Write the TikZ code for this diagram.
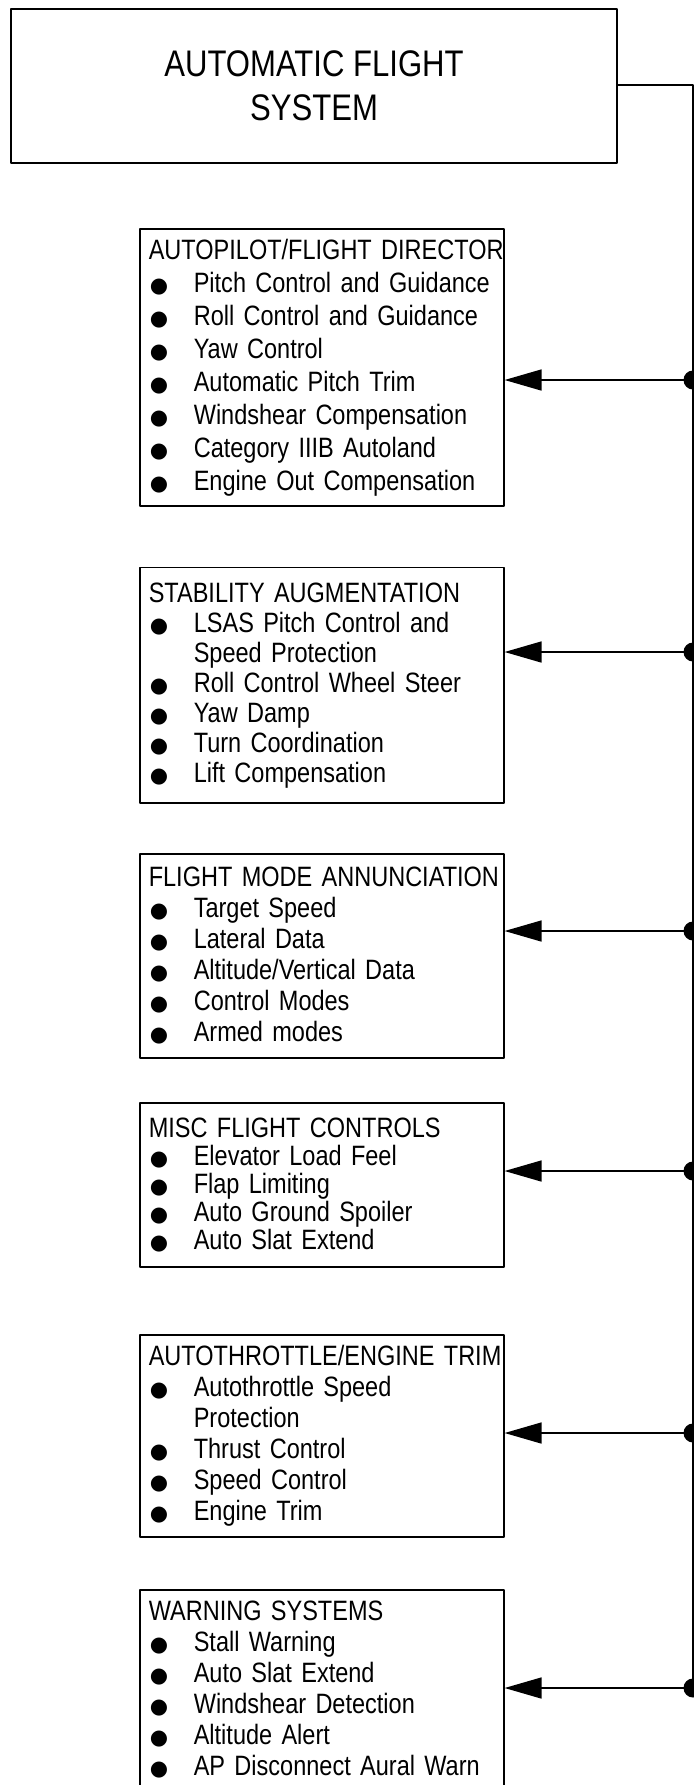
\documentclass[tikz,border=0pt]{standalone}
\usepackage{fontspec}
\setmainfont{Liberation Sans}[FakeStretch=0.84]
\newfontfamily\dotfont{DejaVu Sans}
\usetikzlibrary{arrows.meta}
\newcommand\bul{{\dotfont\fontsize{10.5pt}{10.5pt}\selectfont ●}}
\newcommand\itm[1]{\mbox{\makebox[22.5pt][l]{\hspace{0.5pt}\bul}#1}}
\newcommand\cont[1]{\mbox{\hspace{22.5pt}#1}}
\begin{document}
\begin{tikzpicture}[x=1pt,y=1pt,line width=0.8pt,line join=round,line cap=round,
  sysbox/.style={draw,anchor=north west,minimum width=182pt,text width=173pt,
    inner xsep=4.5pt,inner ysep=0pt,align=left,font=\fontsize{14pt}{#1}\selectfont},
  sysbox/.default=15.5pt,
  feed/.style={-{Triangle[length=18.5pt,width=10.5pt]}}]
\useasboundingbox (0,0) rectangle (347,-892.5);
\node[draw,minimum width=303pt,minimum height=77pt,align=center,
  font=\fontsize{18.5pt}{22pt}\selectfont] (afs) at (157,-43) {AUTOMATIC FLIGHT\\SYSTEM};
\node[sysbox=16.5pt,minimum height=138.5pt] (ap) at (69.5,-114) {\mbox{AUTOPILOT/FLIGHT DIRECTOR}\\
  \itm{Pitch Control and Guidance}\\ \itm{Roll Control and Guidance}\\ \itm{Yaw Control}\\
  \itm{Automatic Pitch Trim}\\ \itm{Windshear Compensation}\\ \itm{Category IIIB Autoland}\\
  \itm{Engine Out Compensation}};
\node[sysbox=15pt,minimum height=117.75pt] (sa) at (69.5,-283.3) {\mbox{STABILITY AUGMENTATION}\\
  \itm{LSAS Pitch Control and}\\ \cont{Speed Protection}\\ \itm{Roll Control Wheel Steer}\\
  \itm{Yaw Damp}\\ \itm{Turn Coordination}\\ \itm{Lift Compensation}};
\node[sysbox,minimum height=102pt] (fma) at (69.5,-426.5) {\mbox{FLIGHT MODE ANNUNCIATION}\\
  \itm{Target Speed}\\ \itm{Lateral Data}\\ \itm{Altitude/Vertical Data}\\
  \itm{Control Modes}\\ \itm{Armed modes}};
\node[sysbox=14pt,minimum height=82pt] (mfc) at (69.5,-551) {\mbox{MISC FLIGHT CONTROLS}\\
  \itm{Elevator Load Feel}\\ \itm{Flap Limiting}\\ \itm{Auto Ground Spoiler}\\
  \itm{Auto Slat Extend}};
\node[sysbox,minimum height=101pt] (at) at (69.5,-667) {\mbox{AUTOTHROTTLE/ENGINE TRIM}\\
  \itm{Autothrottle Speed}\\ \cont{Protection}\\ \itm{Thrust Control}\\
  \itm{Speed Control}\\ \itm{Engine Trim}};
\node[sysbox,minimum height=100pt] (ws) at (69.5,-794.5) {\mbox{WARNING SYSTEMS}\\
  \itm{Stall Warning}\\ \itm{Auto Slat Extend}\\ \itm{Windshear Detection}\\
  \itm{Altitude Alert}\\ \itm{AP Disconnect Aural Warn}};
\path (346.5,-42.5) coordinate (bustop)
  (346.5,-190) coordinate (dap)
  (346.5,-326) coordinate (dsa)
  (346.5,-465.5) coordinate (dfma)
  (346.5,-585.5) coordinate (dmfc)
  (346.5,-716.5) coordinate (dat)
  (346.5,-844) coordinate (dws);
\draw (afs.east |- bustop) -- (bustop) -- (dws);
\foreach \b in {ap,sa,fma,mfc,at,ws}{
\draw[feed] (d\b) -- (\b.east |- d\b);
\fill (d\b) circle (4.75pt);}
\end{tikzpicture}
\end{document}
